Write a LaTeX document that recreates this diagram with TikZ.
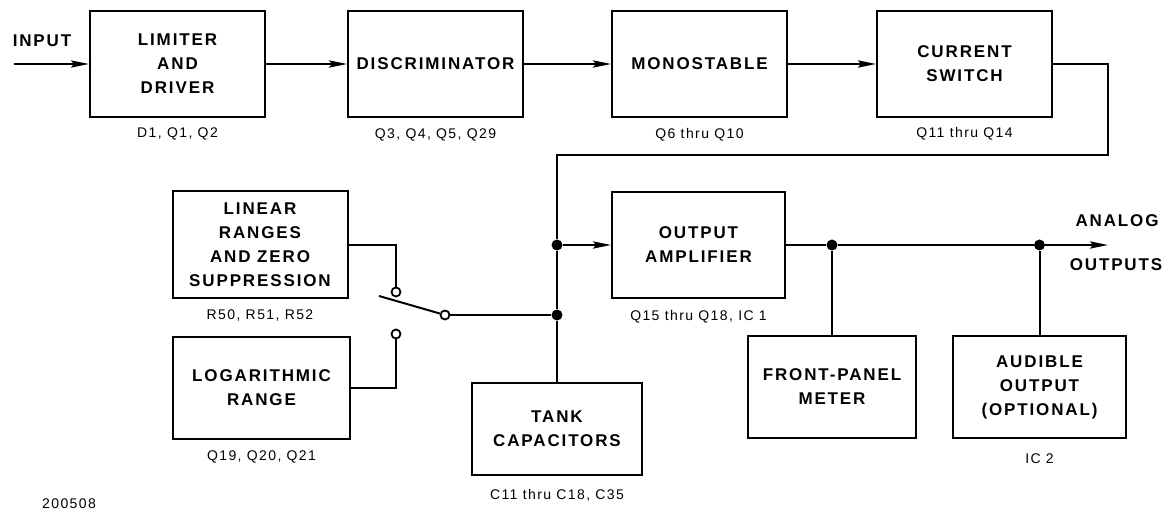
\documentclass[tikz,border=0pt]{standalone}
\usepackage{fontspec}
\setmainfont{Liberation Sans}
\newfontfamily\capfont[LetterSpace=11]{Liberation Sans}
\newfontfamily\subfont[LetterSpace=10]{Liberation Sans}
\usepackage{tikz}
\usetikzlibrary{arrows.meta, positioning}
\tikzset{
  % Block styles
  blk/.style={rectangle, draw=black, line width=1pt, minimum width=87.5pt, minimum height=53pt, inner sep=2pt, text centered, align=center, font=\capfont\bfseries\fontsize{8.5}{12}\selectfont},
  sub/.style={inner sep=0pt, text height=5pt, text depth=1.5pt, font=\subfont\fontsize{7}{8}\selectfont},
  tag/.style={inner sep=0pt, font=\capfont\bfseries\fontsize{8.5}{12}\selectfont},
  % Wiring styles
  wire/.style={line width=1pt},
  arrow/.style={wire, -{Stealth[length=9pt, width=3.6pt, inset=1.5pt]}},
  dot/.style={circle, fill=black, inner sep=0pt, minimum size=5.5pt},
  term/.style={circle, draw=black, fill=white, line width=0.9pt, inner sep=0pt, minimum size=4.5pt},
}
\begin{document}
\begin{tikzpicture}[x=0.5pt, y=-0.5pt]
    \useasboundingbox (0,0) rectangle (1169,517);

    % Top chain
    \node[blk] (lim) at (177.5,64) {LIMITER\\AND\\DRIVER};
    \node[sub, below=4.5pt of lim] (limq) {D1, Q1, Q2};
    \node[blk, right=40.5pt of lim] (disc) {DISCRIMINATOR};
    \node[sub, below=5pt of disc] (discq) {Q3, Q4, Q5, Q29};
    \node[blk, right=43.5pt of disc] (mono) {MONOSTABLE};
    \node[sub, below=5pt of mono] (monoq) {Q6 thru Q10};
    \node[blk, right=44pt of mono] (cur) {CURRENT\\SWITCH};
    \node[sub, below=4.5pt of cur] (curq) {Q11 thru Q14};

    % Range selection
    \node[blk, minimum height=53.5pt] (lin) at (260,245) {LINEAR\\RANGES\\AND ZERO\\SUPPRESSION};
    \node[sub, below=5pt of lin] (linq) {R50, R51, R52};
    \node[blk, minimum width=88.5pt, minimum height=51pt] (log) at (261.5,388) {LOGARITHMIC\\RANGE};
    \node[sub, below=5pt of log] (logq) {Q19, Q20, Q21};
    \node[blk, minimum width=85pt, minimum height=46pt] (tank) at (557,429) {TANK\\CAPACITORS};
    \node[sub, below=6.5pt of tank] (tankq) {C11 thru C18, C35};

    % Output side
    \node[blk, minimum width=86.5pt] (amp) at (698.5,245) {OUTPUT\\AMPLIFIER};
    \node[sub, below=5.5pt of amp] (ampq) {Q15 thru Q18, IC 1};
    \node[blk, minimum width=84pt, minimum height=51pt] (meter) at (832,387) {FRONT-PANEL\\METER};
    \node[blk, minimum width=86.5pt, minimum height=51pt] (aud) at (1039.5,387) {AUDIBLE\\OUTPUT\\(OPTIONAL)};
    \node[sub, below=7pt of aud] (audq) {IC 2};

    % Free labels
    \node[tag] (input) at (42,41) {INPUT};
    \node[tag] (analog) at (1117,221) {ANALOG};
    \node[tag] (outputs) at (1116,265) {OUTPUTS};
    \node[sub] (fig) at (69,505) {200508};

    % Junctions and switch contacts
    \node[dot] (j1) at (557,245) {};
    \node[dot] (j2) at (557,315) {};
    \node[dot] (j3) at (832,245) {};
    \node[dot] (j4) at (1039.5,245) {};
    \node[term] (c1) at (396,292) {};
    \node[term] (c2) at (396,334) {};
    \node[term] (piv) at (445,315) {};
    \coordinate (in) at (14,64);
    \coordinate (bend) at (1108,155);
    \coordinate (arm) at (379,296);
    \coordinate (out) at (1108,245);

    % Arrows
    \draw[arrow] (in) -- (lim);
    \draw[arrow] (lim) -- (disc);
    \draw[arrow] (disc) -- (mono);
    \draw[arrow] (mono) -- (cur);
    \draw[wire] (cur.east) -| (bend) -| (j1);
    \draw[wire] (j1) -- (j2) -- (tank);
    \draw[arrow] (j1) -- (amp);
    \draw[wire] (lin.east) -| (c1);
    \draw[wire] (log.east) -| (c2);
    \draw[wire] (arm) -- (piv);
    \draw[wire] (piv) -- (j2);
    \draw[wire] (amp) -- (j3) -- (j4);
    \draw[arrow] (j4) -- (out);
    \draw[wire] (j3) -- (meter);
    \draw[wire] (j4) -- (aud);
\end{tikzpicture}
\end{document}
